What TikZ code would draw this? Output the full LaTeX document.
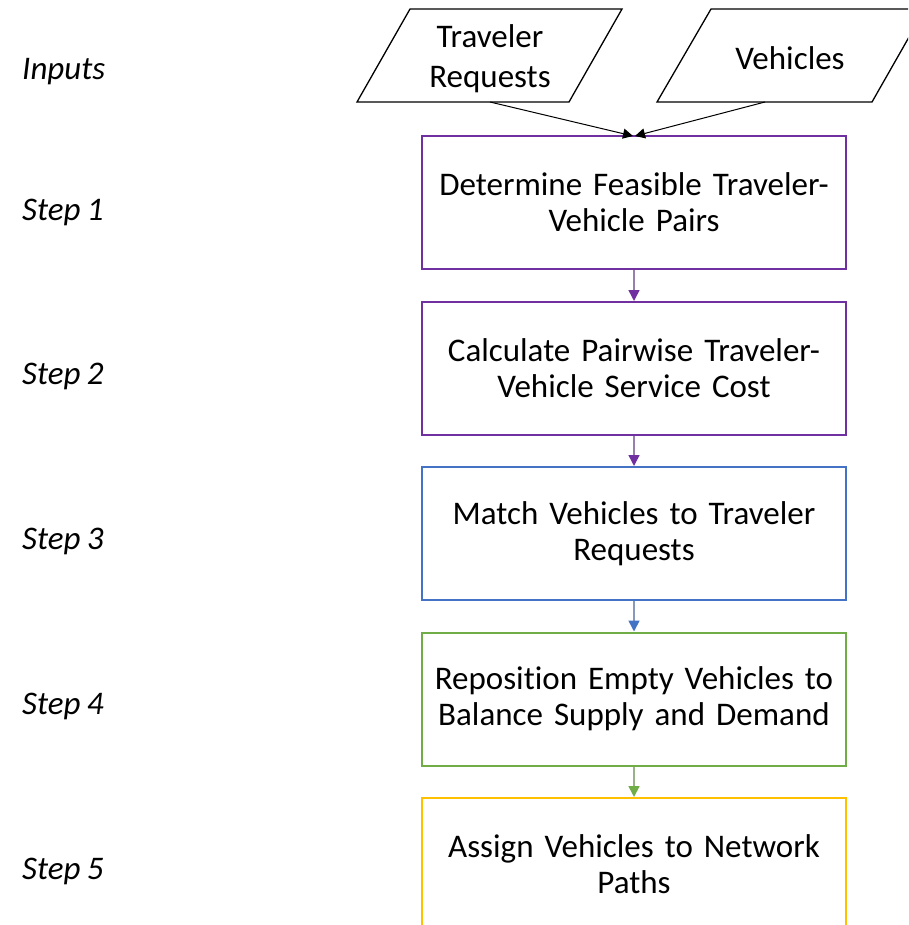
\documentclass[tikz,border=0pt]{standalone}
\usepackage{fontspec}
\setmainfont[Ligatures={NoCommon},WordSpace=0.85]{Carlito}
\usetikzlibrary{arrows.meta}
\definecolor{cpurple}{RGB}{112,48,160}
\definecolor{cblue}{RGB}{68,114,196}
\definecolor{cgreen}{RGB}{112,173,71}
\definecolor{cgold}{RGB}{255,192,0}
\tikzset{
  x=1pt, y=-1pt,
  stepbox/.style={draw=#1, line width=2pt, minimum width=424pt, minimum height=133pt,
    align=center, font=\fontsize{33}{36}\selectfont, inner sep=0pt, text width=415pt},
  steplabel/.style={anchor=west, font=\fontsize{33}{36}\selectfont\itshape, inner sep=0pt},
  para/.style={draw=black, line width=1.3pt, line join=miter},
  paratext/.style={align=center, font=\fontsize{33}{40}\selectfont, inner sep=0pt},
  inarrow/.style={draw=black, line width=1pt, -{Triangle[length=10pt,width=10pt]}},
  flow/.style={draw=#1!55!gray!75!white, line width=1.6pt, -{Triangle[length=11pt,width=11pt,fill=#1,color=#1]}}
}
\begin{document}
\begin{tikzpicture}
\useasboundingbox (0,0) rectangle (908,925);
\clip (0,0) rectangle (908,925);
% step labels
\node[steplabel] (lin) at (22,72) {Inputs};
\node[steplabel] (l1) at (22,212) {Step 1};
\node[steplabel] (l2) at (22,376) {Step 2};
\node[steplabel] (l3) at (22,541) {Step 3};
\node[steplabel] (l4) at (22,706) {Step 4};
\node[steplabel] (l5) at (22,871) {Step 5};
% input parallelograms
\draw[para] (410,9) -- (622,9) -- (569,102) -- (357,102) -- cycle;
\node[paratext] (treq) at (490,59) {Traveler\\Requests};
\coordinate (treqb) at (490,102);
\draw[para] (711,9) -- (925,9) -- (872,102) -- (657,102) -- cycle;
\node[paratext] (veh) at (790,58) {Vehicles};
\coordinate (vehb) at (765,102);
% step boxes
\node[stepbox=cpurple] (s1) at (634,202.5) {Determine Feasible Traveler-\\Vehicle Pairs};
\node[stepbox=cpurple] (s2) at (634,368.5) {Calculate Pairwise Traveler-\\Vehicle Service Cost};
\node[stepbox=cblue] (s3) at (634,533.5) {Match Vehicles to Traveler\\Requests};
\node[stepbox=cgreen] (s4) at (634,699) {Reposition Empty Vehicles to\\Balance Supply and Demand};
\node[stepbox=cgold] (s5) at (634,864.5) {Assign Vehicles to Network\\Paths};
% connectors
\coordinate (s1t) at ([yshift=-1pt]s1.north);
\draw[inarrow] (treqb) -- ([xshift=-1pt]s1t);
\draw[inarrow] (vehb) -- ([xshift=1pt]s1t);
\draw[flow=cpurple] (s1) -- (s2);
\draw[flow=cpurple] (s2) -- (s3);
\draw[flow=cblue] (s3) -- (s4);
\draw[flow=cgreen] (s4) -- (s5);
\end{tikzpicture}
\end{document}
